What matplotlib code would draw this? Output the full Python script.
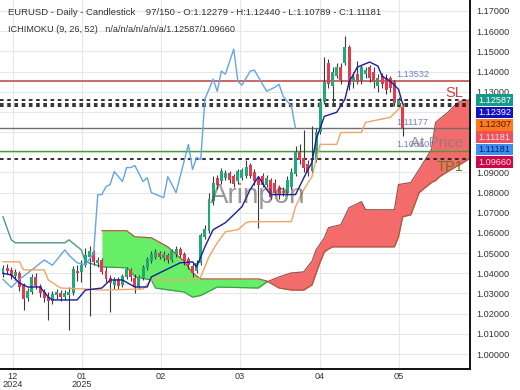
import matplotlib
matplotlib.use("Agg")
import matplotlib.pyplot as plt
from matplotlib.patches import Rectangle
from matplotlib.transforms import Bbox, TransformedBbox
import numpy as np

plt.rcParams['font.family'] = ['Liberation Sans', 'DejaVu Sans']

# ---------------- data ----------------
opens = [1.0395,1.0425,1.0415,1.0385,1.0400,1.0340,1.0280,1.0305,1.0380,1.0335,
         1.0305,1.0285,1.0265,1.0290,1.0300,1.0285,1.0290,1.0300,1.0410,1.0405,
         1.0440,1.0480,1.0505,1.0450,1.0465,1.0410,1.0375,1.0340,1.0370,1.0340,
         1.0380,1.0415,1.0375,1.0330,1.0375,1.0425,1.0460,1.0480,1.0500,1.0475,
         1.0490,1.0465,1.0495,1.0520,1.0495,1.0470,1.0435,1.0410,1.0450,1.0580,
         1.0610,1.0760,1.0870,1.0855,1.0870,1.0895,1.0880,1.0855,1.0870,1.0880,
         1.0935,1.0900,1.0860,1.0880,1.0840,1.0860,1.0850,1.0830,1.0810,1.0800,
         1.0830,1.0890,1.1000,1.0970,1.0940,1.0905,1.0960,1.1100,1.1250,1.1440,
         1.1330,1.1380,1.1420,1.1440,1.1520,1.1350,1.1390,1.1360,1.1390,1.1420,
         1.1400,1.1330,1.1380,1.1370,1.1370,1.1350,1.1235,1.12279]
highs = [1.0440,1.0445,1.0430,1.0420,1.0410,1.0350,1.0325,1.0395,1.0400,1.0345,
         1.0320,1.0305,1.0310,1.0320,1.0315,1.0315,1.0330,1.0435,1.0440,1.0465,
         1.0525,1.0535,1.0515,1.0480,1.0475,1.0430,1.0390,1.0380,1.0380,1.0395,
         1.0430,1.0425,1.0395,1.0390,1.0440,1.0480,1.0510,1.0520,1.0510,1.0510,
         1.0500,1.0520,1.0535,1.0530,1.0505,1.0480,1.0450,1.0465,1.0600,1.0640,
         1.0800,1.0880,1.0885,1.0920,1.0910,1.0905,1.0890,1.0915,1.0920,1.0960,
         1.0945,1.0915,1.0880,1.0895,1.0885,1.0870,1.0865,1.0840,1.0830,1.0880,
         1.0920,1.1030,1.1040,1.1110,1.0960,1.1130,1.1120,1.1270,1.1470,1.1460,
         1.1420,1.1440,1.1440,1.1576,1.1530,1.1400,1.1450,1.1430,1.1420,1.1430,
         1.1420,1.1390,1.1395,1.1390,1.1380,1.1360,1.1275,1.12440]
lows = [1.0380,1.0395,1.0370,1.0365,1.0310,1.0220,1.0265,1.0295,1.0320,1.0285,
        1.0260,1.0170,1.0250,1.0275,1.0265,1.0270,1.0120,1.0290,1.0360,1.0355,
        1.0430,1.0190,1.0440,1.0430,1.0395,1.0355,1.0210,1.0320,1.0320,1.0330,
        1.0370,1.0360,1.0300,1.0320,1.0365,1.0415,1.0450,1.0470,1.0470,1.0460,
        1.0450,1.0455,1.0480,1.0480,1.0440,1.0420,1.0380,1.0400,1.0440,1.0570,
        1.0600,1.0740,1.0820,1.0845,1.0860,1.0850,1.0830,1.0845,1.0860,1.0870,
        1.0870,1.0840,1.0626,1.0830,1.0830,1.0770,1.0790,1.0770,1.0785,1.0790,
        1.0820,1.0880,1.0940,1.0900,1.0880,1.0895,1.0950,1.1090,1.1240,1.1320,
        1.1240,1.1370,1.1340,1.1430,1.1310,1.1320,1.1340,1.1340,1.1370,1.1350,
        1.1320,1.1300,1.1320,1.1290,1.1300,1.1230,1.1225,1.10789]
closes = [1.0425,1.0410,1.0385,1.0405,1.0330,1.0275,1.0310,1.0380,1.0335,1.0300,
          1.0280,1.0265,1.0295,1.0305,1.0285,1.0300,1.0305,1.0420,1.0400,1.0440,
          1.0490,1.0510,1.0455,1.0465,1.0405,1.0370,1.0350,1.0365,1.0335,1.0385,
          1.0420,1.0380,1.0330,1.0380,1.0430,1.0470,1.0495,1.0505,1.0480,1.0495,
          1.0465,1.0510,1.0520,1.0490,1.0460,1.0440,1.0400,1.0450,1.0590,1.0620,
          1.0770,1.0850,1.0840,1.0905,1.0895,1.0860,1.0845,1.0905,1.0910,1.0925,
          1.0880,1.0855,1.0840,1.0840,1.0870,1.0780,1.0800,1.0790,1.0800,1.0860,
          1.0900,1.1000,1.0960,1.0920,1.0895,1.0960,1.1100,1.1250,1.1350,1.1340,
          1.1400,1.1420,1.1360,1.1520,1.1335,1.1375,1.1350,1.1420,1.1410,1.1370,
          1.1350,1.1370,1.1340,1.1310,1.1320,1.1245,1.1260,1.11181]

tenkan_i = [0,2,4,6,9,11,12,18,20,24,26,29,32,35,36,43,46,47,49,51,54,58,60,62,64,65,
            71,74,75,76,78,81,83,84,86,89,91,92,94,96,97]
tenkan_v = [1.0400,1.0392,1.0352,1.0332,1.0332,1.0282,1.0268,1.0268,1.0317,1.0327,1.0367,
            1.0367,1.0332,1.0332,1.0382,1.0452,1.0457,1.0432,1.0531,1.0616,1.0651,1.0730,
            1.0815,1.0879,1.0815,1.0790,1.0790,1.0914,1.0949,1.1064,1.1178,1.1198,1.1263,
            1.1347,1.1422,1.1447,1.1427,1.1377,1.1352,1.1312,1.12392]

kijun_i = [0,4,5,10,11,14,20,24,34,36,47,48,50,52,54,57,59,60,70,71,73,75,76,77,81,82,
           87,88,94,96,97]
kijun_v = [1.0457,1.0457,1.0417,1.0417,1.0367,1.0327,1.0322,1.0317,1.0322,1.0367,1.0367,
           1.0382,1.0482,1.0551,1.0606,1.0616,1.0651,1.0656,1.0656,1.0730,1.0815,1.0879,
           1.0964,1.1039,1.1039,1.1098,1.1098,1.1148,1.1173,1.1213,1.12307]

chikou_i = [0,2,4,7,10,12,15,16,18,20,22,23,24,25,26,27,29,30,31,32,34,35,36,39,40,42,
            45,46,47,48,49,51,52,53,54,56,57,58,60,61,64,66,67,68,70,71]
chikou_v = [1.0370,1.0330,1.0370,1.0417,1.0466,1.0440,1.0516,1.0490,1.0452,1.0442,1.0500,
            1.0790,1.0790,1.0830,1.0840,1.0904,1.0855,1.0924,1.0924,1.0934,1.0855,1.0874,
            1.0800,1.0775,1.0879,1.0800,1.1039,1.0914,1.0974,1.0964,1.1263,1.1362,1.1302,
            1.1402,1.1387,1.1511,1.1352,1.1332,1.1402,1.1407,1.1302,1.1322,1.1337,1.1277,
            1.1228,1.11181]

spanB_pre_i = [0,2,3,15,16,19,20,24]
spanB_pre_v = [1.0680,1.0566,1.0551,1.0551,1.0566,1.0516,1.0457,1.0432]

cloud_i = [24,30,31,32,36,37,40,44,46,48,52,62,64,67,70,73,75,76,77,78,79,80,82,84,87,88,
           95,96,97,99,101,104,105,106,108,110,111,113]
spanA_v = [1.0611,1.0611,1.0596,1.0581,1.0576,1.0565,1.0531,1.0459,1.0402,1.0372,1.0372,
           1.0372,1.0362,1.0327,1.0317,1.0317,1.0342,1.0400,1.0457,1.0506,1.0520,1.0531,
           1.0531,1.0531,1.0531,1.0531,1.0531,1.0581,1.0680,1.0690,1.0800,1.0850,1.0860,
           1.0879,1.0905,1.0929,1.0940,1.09660]
spanB_v = [1.0432,1.0427,1.0410,1.0382,1.0367,1.0327,1.0318,1.0307,1.0282,1.0290,1.0332,
           1.0327,1.0357,1.0382,1.0402,1.0407,1.0460,1.0516,1.0546,1.0576,1.0626,1.0631,
           1.0641,1.0725,1.0755,1.0715,1.0715,1.0840,1.0843,1.0850,1.0914,1.1014,1.1148,
           1.1165,1.1198,1.1240,1.1253,1.12587]

sl_level = 1.13532
entry_levels = [1.12587, 1.12392, 1.12307]
price_level = 1.11177
green_level = 1.10060
tp1_level = 1.09660

month_pos = [2.4, 19.2, 38.3, 57.5, 76.9, 96.1]
month_labels = ["12\n2024", "01\n2025", "02", "03", "04", "05"]
y_ticks = [1.00,1.01,1.02,1.03,1.04,1.05,1.06,1.07,1.08,1.09,1.10,1.11,1.12,1.13,1.14,1.15,1.16,1.17]
hidden_ticks = [1.10, 1.11, 1.12]   # covered by the stacked price boxes

side_values = [1.12587, 1.12392, 1.12307, 1.11181, 1.11181, 1.09660]
side_colors = ['#17998a', '#1212c4', '#ff7a1f', '#f0505c', '#3d8ef2', '#cc0a4a']
side_text = ['#ffffff', '#ffffff', '#4a1c00', '#ffe6e6', '#06205a', '#ffe0e8']

header1 = "EURUSD - Daily - Candlestick    97/150 - O:1.12279 - H:1.12440 - L:1.10789 - C:1.11181"
header2 = "ICHIMOKU (9, 26, 52)   n/a/n/a/n/a/n/a/1.12587/1.09660"

# ---------------- figure ----------------
W, H = 520, 390
fig = plt.figure(figsize=(W/100, H/100), dpi=100)
ax_l, ax_r, ax_t, ax_b = 0, 470, 0, 369
ax = fig.add_axes([ax_l/W, 1-ax_b/H, (ax_r-ax_l)/W, (ax_b-ax_t)/H])
ax.set_xlim(-0.73, 113.35)
ax.set_ylim(0.99257, 1.17545)

ax.set_yticks(y_ticks)
ax.set_yticklabels(["" if any(abs(v-h) < 1e-9 for h in hidden_ticks) else f"{v:.5f}" for v in y_ticks])
ax.yaxis.tick_right()
ax.set_xticks(month_pos)
ax.set_xticklabels(month_labels, linespacing=0.85)
ax.tick_params(axis='y', length=0, pad=4.5, labelsize=6.6, labelcolor='#333333')
ax.tick_params(axis='x', length=0, pad=2.5, labelsize=6.6, labelcolor='#333333')
ax.grid(True, color='#e6e6e6', lw=0.8, zorder=0)
ax.set_axisbelow(True)
for s in ['top', 'left']:
    ax.spines[s].set_visible(False)
for s in ['right', 'bottom']:
    ax.spines[s].set_color('#111111')
    ax.spines[s].set_linewidth(1.4)

# cloud
ci = np.array(cloud_i, dtype=float)
a = np.array(spanA_v); b = np.array(spanB_v)
ax.fill_between(ci, a, b, where=a >= b, interpolate=True, color='#66ee66', lw=0, zorder=1)
ax.fill_between(ci, a, b, where=a < b, interpolate=True, color='#f46b6b', lw=0, zorder=1)
ax.plot(spanB_pre_i, spanB_pre_v, color='#4a9a86', lw=1.0, zorder=2)
ax.plot(ci, a, color='#a8583a', lw=0.9, zorder=2)
ax.plot(ci[ci <= 64], b[ci <= 64], color='#3c9c50', lw=0.9, zorder=2)
ax.plot(ci[ci >= 64], b[ci >= 64], color='#a05050', lw=0.9, zorder=2)

# horizontal levels
ax.axhline(sl_level, color='#c0504d', lw=1.2, zorder=2)
for lv in entry_levels:
    ax.axhline(lv, color='#222222', lw=1.3, ls=(0, (2, 2)), zorder=2)
ax.axhline(price_level, color='#707070', lw=1.0, zorder=2)
ax.axhline(green_level, color='#4a9a3c', lw=1.0, zorder=2)
ax.axhline(tp1_level, color='#222222', lw=1.3, ls=(0, (2, 2)), zorder=2)

# candles
idx = np.arange(len(closes))
o = np.array(opens); c = np.array(closes); hh = np.array(highs); ll = np.array(lows)
up = c >= o
ax.vlines(idx, ll, hh, color='#3a3a3a', lw=0.8, zorder=3)
body_lo = np.minimum(o, c)
body_h = np.maximum(np.abs(c - o), 0.0003)
ax.bar(idx[up], body_h[up], bottom=body_lo[up], width=0.72, color='#22a877', lw=0, zorder=4)
ax.bar(idx[~up], body_h[~up], bottom=body_lo[~up], width=0.72, color='#e5394f', lw=0, zorder=4)

# ichimoku lines
ax.plot(chikou_i, chikou_v, color='#62a6e6', lw=1.0, zorder=5)
ax.plot(kijun_i, kijun_v, color='#f0a465', lw=1.0, zorder=5)
ax.plot(tenkan_i, tenkan_v, color='#1c1ca0', lw=1.0, zorder=5)

# level labels
lvl_col = '#6b82c9'
for lv in [sl_level, price_level, green_level]:
    ax.text(95.4, lv + 0.0008, f"{lv:.5f}", color=lvl_col, fontsize=6.6, va='bottom', ha='left', zorder=6)
ax.text(107.3, 1.1274, "SL", color='#e03c3c', fontsize=10.5, va='baseline', ha='left', zorder=6)
ax.text(98.8, 1.1026, "At Price", color='#808080', fontsize=11, va='baseline', ha='left', alpha=0.85, zorder=6)
ax.text(105.3, 1.0907, "TP1", color='#5f7a12', fontsize=10.5, va='baseline', ha='left', zorder=6)
ax.text(50.2, 1.0748, "Arinpon", color='#444444', fontsize=20, va='baseline', ha='left', alpha=0.55, zorder=6)

# header
fig.text(8/W, 1-12.5/H, header1, fontsize=6.8, color='#333333', va='center', ha='left')
fig.text(8/W, 1-29.5/H, header2, fontsize=6.6, color='#333333', va='center', ha='left')

# clipped 0.99000 label
y99 = 1 - (ax_b + 5)/H
t = fig.text(476/W, y99, "0.99000", fontsize=6.6, color='#333333', va='center', ha='left')
t.set_clip_box(TransformedBbox(Bbox([[0.9, 1-ax_b/H], [1.0, 1.0]]), fig.transFigure))
t.set_clip_on(True)

# side labels (stacked)
def price_to_py(p):
    y0, y1 = ax.get_ylim()
    return ax_t + (y1 - p) / (y1 - y0) * (ax_b - ax_t)
box_h = 11.5
step = 12.4
prev = -100
for v, bc, tc in zip(side_values, side_colors, side_text):
    py = price_to_py(v)
    if py < prev + step:
        py = prev + step
    prev = py
    fig.add_artist(Rectangle((476/W, 1-(py+box_h/2)/H), 37/W, box_h/H,
                             transform=fig.transFigure, facecolor=bc, edgecolor='none', zorder=10))
    fig.text(494.5/W, 1-py/H, f"{v:.5f}", fontsize=6.6, color=tc, va='center', ha='center', zorder=11)

fig.savefig("out.png", dpi=100)
